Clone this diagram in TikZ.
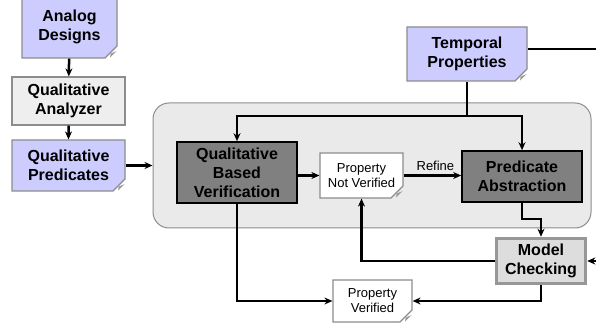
\documentclass[tikz,border=0pt]{standalone}
\usepackage{fontspec}
\setmainfont{Liberation Sans}
\usetikzlibrary{calc,positioning,arrows.meta,shapes.misc}
\definecolor{lav}{HTML}{CCCCFF}
\definecolor{edgegray}{HTML}{8C8C8C}
\definecolor{darkbox}{HTML}{808080}
\definecolor{lightbox}{HTML}{EEEEEE}
\definecolor{panel}{HTML}{EAEAEA}
\definecolor{mcfill}{HTML}{DDDDDD}
\definecolor{foldgray}{HTML}{9A9A9A}
\tikzset{
  bigtxt/.style={font=\fontsize{16}{19}\selectfont\bfseries,align=center},
  smalltxt/.style={font=\fontsize{13}{15}\selectfont,align=center},
  note/.style={chamfered rectangle,chamfered rectangle corners=south east,
    chamfered rectangle sep=6pt,draw=edgegray,line width=1.2pt,inner sep=0pt},
  inbox/.style={note,fill=lav,bigtxt},
  outbox/.style={note,fill=white,smalltxt},
  plainbox/.style={rectangle,draw=edgegray,line width=1.2pt,fill=lightbox,bigtxt,inner sep=0pt},
  darkbox/.style={rectangle,draw=black,line width=1.6pt,fill=darkbox,bigtxt,inner sep=0pt},
  conn/.style={line width=2.5pt,-{Stealth[length=8pt,width=7pt]}},
  wire/.style={line width=2.5pt}
}
% folded corner of a note
\newcommand\foldcorner[1]{\fill[foldgray]($(#1.south-|#1.east)+(-7.5pt,1pt)$)--($(#1.south-|#1.east)+(-7pt,5pt)$)--($(#1.south-|#1.east)+(-1pt,7.5pt)$)--cycle;}
\begin{document}
\begin{tikzpicture}[x=1pt,y=-1pt]
\useasboundingbox(0,0)rectangle(596,328);
% background panel
\node[draw=edgegray,line width=1pt,fill=panel,rounded corners=16pt,minimum width=438pt,minimum height=125pt](core)at(372,165.5){};
% inputs
\node[inbox,minimum width=95pt,minimum height=62pt](ad)at(69.5,27){Analog\\Designs};
\node[plainbox,minimum width=113pt,minimum height=48pt](qa)at(68.5,101){Qualitative\\Analyzer};
\node[inbox,minimum width=113pt,minimum height=51pt](qp)at(68.5,165.5){Qualitative\\Predicates};
\node[inbox,minimum width=120pt,minimum height=54pt](tp)at(467,54){Temporal\\Properties};
% engines
\node[darkbox,minimum width=120pt,minimum height=61pt](qbv)at(237,172.5){Qualitative\\Based\\Verification};
\node[outbox,minimum width=83pt,minimum height=45pt](pnv)at(361.5,175.5){Property\\Not Verified};
\node[darkbox,minimum width=120pt,minimum height=51pt](pa)at(522,176.5){Predicate\\Abstraction};
\node[rectangle,draw=edgegray!90,line width=3.5pt,fill=mcfill,bigtxt,inner sep=0pt,minimum width=89pt,minimum height=45pt](mc)at(541,261){Model\\Checking};
\node[outbox,minimum width=79pt,minimum height=42pt](pv)at(372.5,301){Property\\Verified};
\foreach \n in {ad,qp,tp,pnv,pv}{\foldcorner{\n}}
% free ends at the right margin
\coordinate(split)at(467,116);
\coordinate(tpout)at(600,49);
\coordinate(mcin)at(600,261);
% connectors
\draw[conn](ad)--(qa);
\draw[conn](qa)--(qp);
\draw[conn](qp.east)--(qp.east-|core.west);
\draw[wire]([yshift=5pt]tp.east)--(tpout);
\draw[wire](tp)--(split);
\draw[conn](split)-|(qbv.north);
\draw[conn](split)-|(pa.north);
\draw[conn](qbv.east|-pnv.west)--(pnv.west);
\draw[conn](pnv.east)--(pnv.east-|pa.west)node[midway,above,font=\fontsize{13}{15}\selectfont,xshift=3pt]{Refine};
\draw[conn](pa.south)--++(0,16)-|(mc.north);
\draw[conn](mcin)--(mc.east);
\draw[conn](mc.west)-|(pnv.south);
\draw[conn](mc.south)|-(pv.east);
\draw[conn](qbv.south)|-(pv.west);
\end{tikzpicture}
\end{document}
